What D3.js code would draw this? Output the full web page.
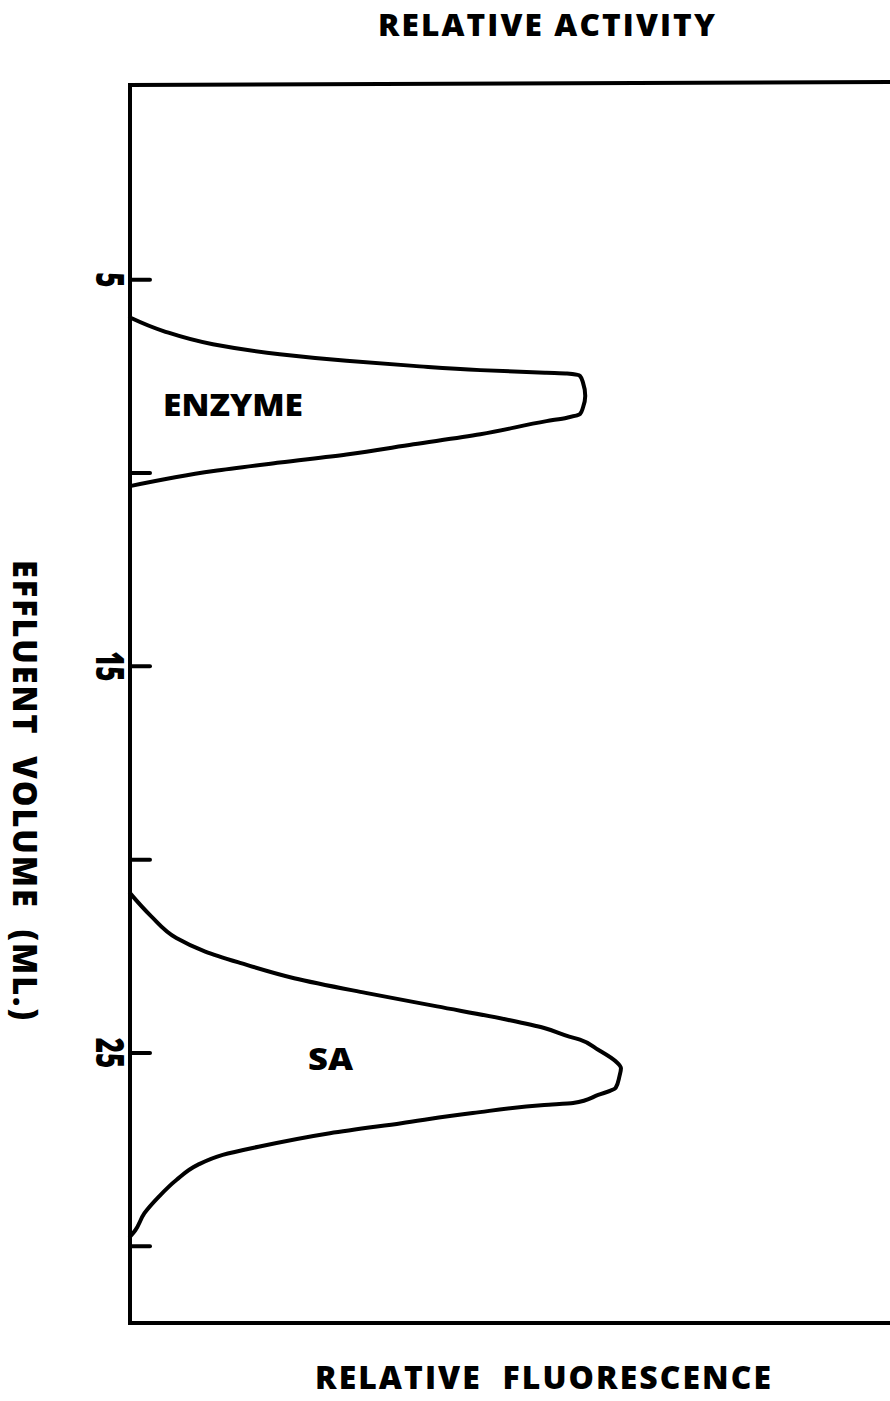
<!DOCTYPE html>
<html>
<head>
<meta charset="utf-8">
<script src="https://cdn.jsdelivr.net/npm/d3@7"></script>
<style>
  html, body { margin: 0; padding: 0; background: #fff; }
  svg { display: block; }
  text { font-family: "Open Sans", "DejaVu Sans", sans-serif; font-weight: 800; fill: #000; }
</style>
</head>
<body>
<div id="chart"></div>
<script>
// effluent volume (ml) / relative fluorescence
const enzymeVolume = [5.99, 6.34, 6.68, 6.94, 7.11, 7.24, 7.35, 7.42, 7.44, 7.50, 7.67, 8.02, 8.32, 8.49, 8.58, 8.67, 9.01, 9.27, 9.53, 9.74, 9.96, 10.35];
const enzymeFluor  = [0, 4.4, 10.9, 19.7, 28.5, 37.3, 46.1, 54.8, 57.5, 59.2, 59.6, 59.9, 59.6, 59.2, 57.5, 54.8, 46.1, 37.3, 28.5, 19.7, 11.0, 0];

const saVolume = [20.88, 21.48, 22.04, 22.39, 22.69, 23.08, 23.46, 23.81, 24.16, 24.37, 24.59, 24.67, 24.93, 25.23, 25.41, 25.62, 25.92, 26.10, 26.31, 26.36, 26.57, 26.83, 27.09, 27.44, 27.65, 27.91, 28.30, 28.73, 29.16, 29.60, 29.77];
const saFluor  = [0, 2.8, 6.1, 9.9, 14.6, 21.6, 31.0, 40.4, 49.8, 54.5, 57.8, 59.2, 61.6, 63.9, 64.6, 64.4, 63.9, 61.6, 58.3, 54.5, 45.1, 35.7, 26.3, 16.9, 12.2, 8.9, 6.1, 3.8, 1.9, 0.7, 0];

const volumeTicks = [5, 10, 15, 20, 25, 30];
const labelledTicks = [5, 15, 25];

const width = 890, height = 1401;

const svg = d3.select("#chart").append("svg")
  .attr("width", width)
  .attr("height", height);

const x = d3.scaleLinear().domain([0, 100]).range([130, 890]);
const y = d3.scaleLinear().domain([0, 32]).range([86, 1323]);

// frame (right edge runs off the page)
svg.append("path")
  .attr("d", `M${x(100) + 20},${y(0) - 4} L${x(0)},${y(0) - 1} L${x(0)},${y(32)} L${x(100) + 20},${y(32)}`)
  .attr("fill", "none")
  .attr("stroke", "#000")
  .attr("stroke-width", 4)
  .attr("stroke-linejoin", "miter");

// ticks point into the plot, labels turned 90 degrees
const axis = d3.axisLeft(y)
  .tickValues(volumeTicks)
  .tickSize(-20)
  .tickFormat(d => labelledTicks.includes(d) ? d : "");

const gAxis = svg.append("g")
  .attr("transform", `translate(${x(0)},0)`)
  .call(axis);

gAxis.select(".domain").remove();
gAxis.selectAll(".tick line")
  .attr("stroke", "#000")
  .attr("stroke-width", 4)
  .attr("stroke-linecap", "round");
gAxis.selectAll(".tick text")
  .attr("x", null)
  .attr("dy", null)
  .attr("transform", "translate(-34,0) rotate(90) scale(0.68,1)")
  .attr("text-anchor", "middle")
  .style("font-size", "38px")
  .style("font-family", "\"Open Sans\", sans-serif")
  .style("font-weight", 800)
  .style("fill", "#000");

const line = d3.line()
  .x(d => x(d[1]))
  .y(d => y(d[0]))
  .curve(d3.curveMonotoneY);

const peaks = [
  d3.zip(enzymeVolume, enzymeFluor),
  d3.zip(saVolume, saFluor)
];

svg.selectAll(".peak")
  .data(peaks)
  .enter()
  .append("path")
  .attr("class", "peak")
  .attr("d", line)
  .attr("fill", "none")
  .attr("stroke", "#000")
  .attr("stroke-width", 4)
  .attr("stroke-linejoin", "round")
  .attr("stroke-linecap", "round");

// labels
svg.append("text")
  .attr("x", 163).attr("y", 416)
  .attr("font-size", 30)
  .attr("textLength", 140)
  .attr("lengthAdjust", "spacingAndGlyphs")
  .text("ENZYME");

svg.append("text")
  .attr("x", 308).attr("y", 1070)
  .attr("font-size", 30)
  .attr("textLength", 45)
  .attr("lengthAdjust", "spacingAndGlyphs")
  .text("SA");

svg.append("text")
  .attr("x", 378).attr("y", 36)
  .attr("font-size", 30)
  .attr("letter-spacing", 2)
  .attr("textLength", 339)
  .attr("lengthAdjust", "spacingAndGlyphs")
  .text("RELATIVE ACTIVITY");

svg.append("text")
  .attr("x", 315).attr("y", 1389)
  .attr("font-size", 31)
  .attr("letter-spacing", 2)
  .attr("textLength", 458)
  .attr("lengthAdjust", "spacingAndGlyphs")
  .attr("xml:space", "preserve")
  .text("RELATIVE  FLUORESCENCE");

svg.append("text")
  .attr("transform", "translate(13,560) rotate(90)")
  .attr("font-size", 33)
  .attr("letter-spacing", 2)
  .attr("textLength", 462)
  .attr("lengthAdjust", "spacingAndGlyphs")
  .attr("xml:space", "preserve")
  .text("EFFLUENT  VOLUME  (ML.)");
</script>
</body>
</html>
